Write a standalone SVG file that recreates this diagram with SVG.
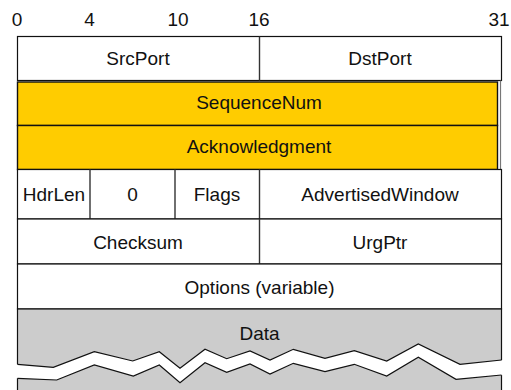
<svg xmlns="http://www.w3.org/2000/svg" width="511" height="390" viewBox="0 0 511 390">
<style>
text{font-family:"Liberation Sans",Arial,sans-serif;font-size:19px;fill:#111;text-anchor:middle}
.cell{fill:#fff;stroke:#111;stroke-width:1.2}
.yel{fill:#FFCC00;stroke:#111;stroke-width:1.4}
.gray{fill:#CCCCCC;stroke:#111;stroke-width:1.2}
.div{stroke:#333;stroke-width:1.4}
</style>
<rect width="511" height="390" fill="#fff"/>
<g id="bits">
<text x="17" y="26">0</text>
<text x="89.5" y="26">4</text>
<text x="178" y="26">10</text>
<text x="259" y="26">16</text>
<text x="499" y="26">31</text>
</g>
<g id="row1">
<rect class="cell" x="17.5" y="36.5" width="484" height="44"/>
<line class="div" x1="259.5" y1="36.5" x2="259.5" y2="80.5"/>
<text x="138" y="64.5">SrcPort</text>
<text x="380" y="64.5">DstPort</text>
</g>
<g id="seq">
<line x1="500.5" y1="80.5" x2="500.5" y2="170" stroke="#777" stroke-width="1.2"/>
<rect class="yel" x="17.5" y="82" width="480" height="43.5"/>
<text x="259" y="108.5">SequenceNum</text>
</g>
<g id="ack">
<rect class="yel" x="17.5" y="125.5" width="480" height="44"/>
<text x="259" y="152.5">Acknowledgment</text>
</g>
<g id="row4">
<rect class="cell" x="17.5" y="169.5" width="484" height="49.5"/>
<line class="div" x1="90" y1="169.5" x2="90" y2="219"/>
<line class="div" x1="175" y1="169.5" x2="175" y2="219"/>
<line class="div" x1="259.5" y1="169.5" x2="259.5" y2="219"/>
<text x="54" y="201">HdrLen</text>
<text x="132.5" y="201">0</text>
<text x="217" y="201">Flags</text>
<text x="380" y="201">AdvertisedWindow</text>
</g>
<g id="row5">
<rect class="cell" x="17.5" y="219" width="484" height="45"/>
<line class="div" x1="259.5" y1="219" x2="259.5" y2="264"/>
<text x="138" y="248.5">Checksum</text>
<text x="380" y="248.5">UrgPtr</text>
</g>
<g id="options">
<rect class="cell" x="17.5" y="264" width="484" height="45"/>
<text x="259.5" y="293.5">Options (variable)</text>
</g>
<g id="data">
<rect class="gray" x="17.5" y="309" width="484" height="90"/>
<polygon fill="#fff" points="16,364.3 53.3,367.3 94.3,351.7 132.7,361 159.3,351.7 180,368.3 205,349.3 226.7,358.7 250,351 270,360 293.3,349.3 325,358.3 354.3,350.7 386.7,361 418.3,344 460,364.3 503,360 503,375 456,379.3 418.3,357.3 386.7,376 354.3,364.3 325,371.7 293.3,363.3 270,374 250,364 226.7,372.3 205,362.7 180,382.7 159.3,365 133.3,376 94.3,365 56.7,380 16,378.3"/>
<polyline fill="none" stroke="#111" stroke-width="1.2" points="17.5,364.3 53.3,367.3 94.3,351.7 132.7,361 159.3,351.7 180,368.3 205,349.3 226.7,358.7 250,351 270,360 293.3,349.3 325,358.3 354.3,350.7 386.7,361 418.3,344 460,364.3 501.5,360"/>
<polyline fill="none" stroke="#111" stroke-width="1.2" points="17.5,378.3 56.7,380 94.3,365 133.3,376 159.3,365 180,382.7 205,362.7 226.7,372.3 250,364 270,374 293.3,363.3 325,371.7 354.3,364.3 386.7,376 418.3,357.3 456,379.3 501.5,375"/>
<text x="259.5" y="339.5">Data</text>
</g>
</svg>
